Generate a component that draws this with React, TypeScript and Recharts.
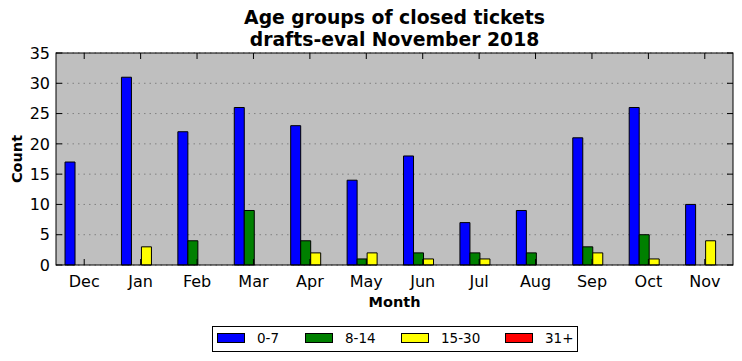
import React from 'react';
import { BarChart, Bar, XAxis, YAxis, CartesianGrid } from 'recharts';

const months = ['Dec', 'Jan', 'Feb', 'Mar', 'Apr', 'May', 'Jun', 'Jul', 'Aug', 'Sep', 'Oct', 'Nov'];
const age0to7 = [17, 31, 22, 26, 23, 14, 18, 7, 9, 21, 26, 10];
const age8to14 = [0, 0, 4, 9, 4, 1, 2, 2, 2, 3, 5, 0];
const age15to30 = [0, 3, 0, 0, 2, 2, 1, 1, 0, 2, 1, 4];
const age31plus = [0, 0, 0, 0, 0, 0, 0, 0, 0, 0, 0, 0];
const yTicks = [0, 5, 10, 15, 20, 25, 30, 35];
const titleLines = ['Age groups of closed tickets', 'drafts-eval November 2018'];

const series = [
  { key: 's0', name: '0-7', color: '#0000ff', values: age0to7 },
  { key: 's1', name: '8-14', color: '#008000', values: age8to14 },
  { key: 's2', name: '15-30', color: '#ffff00', values: age15to30 },
  { key: 's3', name: '31+', color: '#ff0000', values: age31plus },
];

const data = months.map((m, i) => {
  const row: Record<string, string | number> = { month: m };
  series.forEach((s) => {
    row[s.key] = s.values[i];
  });
  return row;
});

const W = 742;
const H = 361;
const PLOT_LEFT = 56;
const PLOT_RIGHT = 733;
const PLOT_TOP = 53;
const PLOT_BOTTOM = 265;
const TICK_LEN = 6;
const FONT = '"DejaVu Sans", sans-serif';

const XTick = (props: any) => {
  const { x, payload } = props;
  return (
    <g>
      <line x1={x} x2={x} y1={PLOT_BOTTOM} y2={PLOT_BOTTOM - TICK_LEN} stroke="#000" strokeWidth={1} />
      <line x1={x} x2={x} y1={PLOT_TOP} y2={PLOT_TOP + TICK_LEN} stroke="#000" strokeWidth={1} />
      <text x={x} y={PLOT_BOTTOM + 22} textAnchor="middle" fontSize={16} fontFamily={FONT} fill="#000">
        {payload.value}
      </text>
    </g>
  );
};

const YTick = (props: any) => {
  const { y, payload } = props;
  return (
    <g>
      <line x1={PLOT_LEFT} x2={PLOT_LEFT + TICK_LEN} y1={y} y2={y} stroke="#000" strokeWidth={1} />
      <line x1={PLOT_RIGHT} x2={PLOT_RIGHT - TICK_LEN} y1={y} y2={y} stroke="#000" strokeWidth={1} />
      <text x={PLOT_LEFT - 6} y={y} dy="0.36em" textAnchor="end" fontSize={16} fontFamily={FONT} fill="#000">
        {payload.value}
      </text>
    </g>
  );
};

export default function App() {
  const cx = (PLOT_LEFT + PLOT_RIGHT) / 2;
  return (
    <div style={{ position: 'absolute', left: 0, top: 0, width: W, height: H, background: '#fff' }}>
      <BarChart
        width={W}
        height={H}
        data={data}
        margin={{ top: PLOT_TOP, right: W - PLOT_RIGHT, bottom: 66, left: 0 }}
        barCategoryGap="16%"
        barGap={0}
      >
        <CartesianGrid
          vertical={false}
          stroke="#808080"
          strokeDasharray="1.5 4"
          fill="#bfbfbf"
          fillOpacity={1}
        />
        <XAxis
          dataKey="month"
          height={30}
          axisLine={false}
          tickLine={false}
          tick={<XTick />}
          interval={0}
        />
        <YAxis
          width={56}
          domain={[0, 35]}
          ticks={yTicks}
          axisLine={false}
          tickLine={false}
          tick={<YTick />}
          interval={0}
        />
        {series.map((s) => (
          <Bar
            key={s.key}
            dataKey={s.key}
            name={s.name}
            fill={s.color}
            stroke="#000"
            strokeWidth={1}
            isAnimationActive={false}
          />
        ))}
      </BarChart>
      <svg
        width={W}
        height={H}
        style={{ position: 'absolute', left: 0, top: 0, pointerEvents: 'none' }}
      >
        <rect
          x={PLOT_LEFT}
          y={PLOT_TOP}
          width={PLOT_RIGHT - PLOT_LEFT}
          height={PLOT_BOTTOM - PLOT_TOP}
          fill="none"
          stroke="#000"
          strokeWidth={1}
        />
        {titleLines.map((line, i) => (
          <text
            key={i}
            x={cx}
            y={24.2 + i * 22}
            textAnchor="middle"
            fontSize={18.8}
            fontWeight="bold"
            fontFamily={FONT}
          >
            {line}
          </text>
        ))}
        <text x={cx} y={307} textAnchor="middle" fontSize={14.5} fontWeight="bold" fontFamily={FONT}>
          Month
        </text>
        <text
          x={21.5}
          y={(PLOT_TOP + PLOT_BOTTOM) / 2}
          transform={`rotate(-90 21.5 ${(PLOT_TOP + PLOT_BOTTOM) / 2})`}
          textAnchor="middle"
          fontSize={14.5}
          fontWeight="bold"
          fontFamily={FONT}
        >
          Count
        </text>
      </svg>
      <div
        style={{
          position: 'absolute',
          left: 212,
          top: 326,
          width: 366,
          height: 26,
          boxSizing: 'border-box',
          border: '1px solid #000',
          background: '#fff',
          fontFamily: FONT,
          fontSize: 13.5,
        }}
      >
        {series.map((s, i) => {
          const swatchLeft = [4, 92, 188, 292][i];
          return (
            <React.Fragment key={s.key}>
              <div
                style={{
                  position: 'absolute',
                  left: swatchLeft,
                  top: 6,
                  width: 28,
                  height: 10,
                  boxSizing: 'border-box',
                  border: '1px solid #000',
                  background: s.color,
                }}
              />
              <div style={{ position: 'absolute', left: swatchLeft + 40, top: 4, lineHeight: '15px', whiteSpace: 'nowrap' }}>
                {s.name}
              </div>
            </React.Fragment>
          );
        })}
      </div>
    </div>
  );
}
